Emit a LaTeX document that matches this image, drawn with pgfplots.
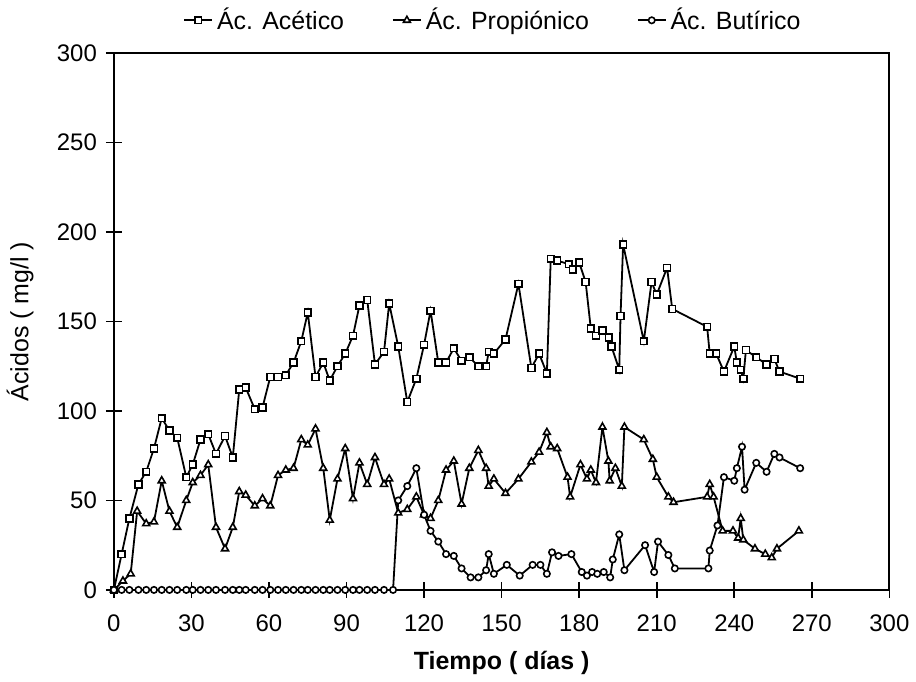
\documentclass[border=0pt]{standalone}
\usepackage{pgfplots}
\pgfplotsset{compat=1.18}
\usepackage{pgfplotstable}
\usepackage{fontspec}
\setmainfont{Liberation Sans}

% Concentraciones de ácidos grasos volátiles (mg/l) frente al tiempo (días)
\pgfplotstableread{
dia val
0 0
3 20
6 40
9.5 59
12.5 66
15.5 79
18.5 96
21.5 89
24.5 85
28 63
30.5 70
33.5 84
36.5 87
39.5 76
43 86
46 74
48.5 112
51 113
54.5 101
57.5 102
60.5 119
63.5 119
66.5 120
69.5 127
72.5 139
75 155
78 119
81 127
83.5 117
86.5 125
89.5 132
92.5 142
95 159
98 162
101 126
104.5 133
106.5 160
110 136
113.5 105
117 118
120 137
122.5 156
125.5 127
128.5 127
131.5 135
134.5 128
137.5 130
141 125
144 125
145 133
147 132
151.5 140
156.5 171
161.5 124
164.5 132
167.5 121
169 185
171.5 184
176 182
177.5 179
180 183
182.5 172
184.5 146
186.5 142
189 145
191.5 141
192.5 136
195.5 123
196 153
197 193
205 139
208 172
210 165
214 180
216 157
229.5 147
230.5 132
233 132
236 122
240 136
241 127
242.5 123
243.5 118
244.5 134
248.5 130
252.5 126
255.5 129
257.5 122
265.5 118
}\acetico

\pgfplotstableread{
dia val
0 0
3.5 5
6.5 9
9 44
12.5 37
15.5 38
18.5 61
21.5 44
24.5 35
28 50
30.5 60
33.5 64
36.5 70
39.5 35
43 23
46 35
48.5 55
51 53
54.5 47
57.5 51
60.5 47
63.5 64
66.5 67
69.5 68
72.5 84
75 81
78 90
81 68
83.5 39
86.5 62
89.5 79
92.5 51
95 71
98 59
101 74
104.5 59
106.5 62
110 43
113.5 45
117 52
120 42
122.5 40
125.5 50
128.5 67
131.5 72
134.5 48
137.5 68
141 78
144 68
145 58
147 62
151.5 54
156.5 62
161.5 71.5
164.5 77
167.5 88
169 80
171.5 79
175.5 63
176.5 52
180.5 70
183 62
184.5 67
186.5 60
189 91
191.3 72
191.8 61
194 68
196.5 58
197.5 91
205 84
208.5 73
210 63
214.5 52
216.5 49
229.5 52
230.5 59
232 52
235.5 33
239.5 33
241.5 29
242.5 40
243.5 28
248 23
252 20
254.5 18
256.5 23
265 33
}\propionico

\pgfplotstableread{
dia val
0 0
3 0
6 0
9.5 0
12.5 0
15.5 0
18.5 0
21.5 0
24.5 0
28 0
30.5 0
33.5 0
36.5 0
39.5 0
43 0
46 0
48.5 0
51 0
54.5 0
57.5 0
60.5 0
63.5 0
66.5 0
69.5 0
72.5 0
75 0
78 0
81 0
83.5 0
86.5 0
89.5 0
92.5 0
95 0
98 0
101 0
104.5 0
108 0
110 50
113.5 58
117 68
120 42
122.5 33
125.5 27
128.5 20
131.5 19
134.5 12
138 7
141 7
144 11
145 20
147 9
152 14
157 8
162 14
165 14
167.5 9
169.5 21
172 19
177 20
181 10
183 8
185 10
187 9
189.5 10
192 7
193 17
195.5 31
197.5 11
205.5 25
209 10
210.5 27
214.5 19.5
217 12
230 12
230.5 22
233.5 36
236 63
240 61
241 68
243 80
244 56
248.5 71
252.5 66
255.5 76
257.5 74
265.5 68
}\butirico

\begin{document}
\begin{tikzpicture}
\begin{axis}[
  scale only axis,
  width=388.5pt, height=269pt,
  xmin=0, xmax=300, ymin=0, ymax=300,
  xtick={0,30,...,300}, ytick={0,50,...,300},
  xtick pos=bottom, ytick pos=left,
  tick align=center, major tick length=8pt,
  tick style={black, line width=0.8pt},
  axis line style={line width=0.9pt},
  /pgf/number format/assume math mode=true,
  ticklabel style={font=\fontsize{12}{14}\selectfont},
  xticklabel style={yshift=-5pt},
  yticklabel style={xshift=-1pt},
  xlabel={\bfseries Tiempo ( días )},
  ylabel={Ácidos ( mg/l )},
  label style={font=\fontsize{12.5}{15}\selectfont},
  xlabel style={at={(axis description cs:0.5,-0.1357)}, anchor=center},
  ylabel style={at={(axis description cs:-0.121,0.5)}, anchor=center},
  clip=false,
  legend columns=3,
  legend cell align=left,
  legend style={at={(axis description cs:0.49,1)}, anchor=south, yshift=6pt,
    draw=none, fill=none, font=\fontsize{12.5}{15}\selectfont,
    /tikz/every even column/.append style={column sep=22pt}},
  legend image code/.code={\draw[mark repeat=2,mark phase=2,#1]
    plot coordinates {(0pt,0pt) (7pt,0pt) (14pt,0pt)};},
  every axis plot/.append style={black, line width=0.9pt},
]
\addplot[mark=square*, mark size=1.7pt, mark options={fill=white, solid, line width=0.8pt}]
  table[x=dia, y=val] {\acetico};
\addlegendentry{Ác. Acético}
\addplot[mark=triangle*, mark size=2pt, mark options={fill=white, solid, line width=0.8pt}]
  table[x=dia, y=val] {\propionico};
\addlegendentry{Ác. Propiónico}
\addplot[mark=*, mark size=1.6pt, mark options={fill=white, solid, line width=0.8pt}]
  table[x=dia, y=val] {\butirico};
\addlegendentry{Ác. Butírico}
\end{axis}
\path (-57pt,-43pt) rectangle (401pt,293pt);
\end{tikzpicture}
\end{document}
